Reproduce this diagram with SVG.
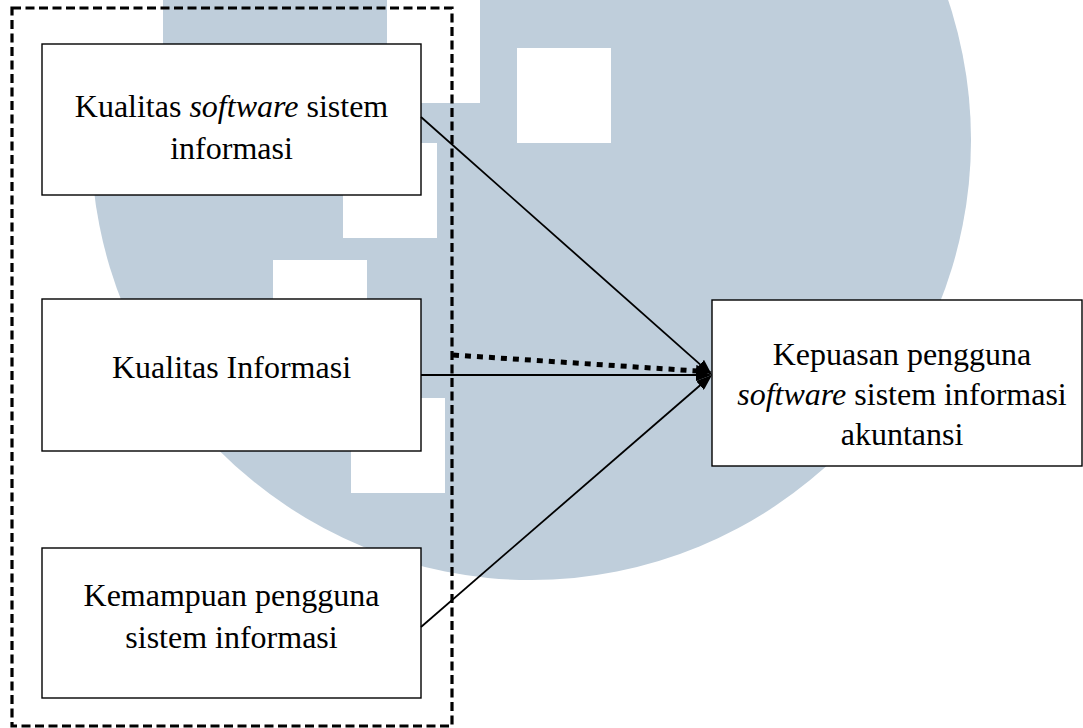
<svg xmlns="http://www.w3.org/2000/svg" width="1083" height="728" viewBox="0 0 1083 728">
<style>
.wm{fill:#bfcedb}
.hole{fill:#ffffff}
.box{fill:#ffffff;stroke:#000;stroke-width:1.4}
.t{font-family:"Liberation Serif","Times New Roman",serif;font-size:32px;fill:#000;text-anchor:middle}
.i{font-style:italic}
.ln{fill:none;stroke:#000;stroke-width:1.8}
.dot{fill:none;stroke:#000;stroke-width:5;stroke-dasharray:6 6}
.frame{fill:none;stroke:#000;stroke-width:3.2;stroke-dasharray:9 4.5}
</style>
<defs>
<marker id="arrow" markerUnits="userSpaceOnUse" markerWidth="16" markerHeight="12" viewBox="0 0 16 12" refX="3" refY="6" orient="auto">
<path d="M0,0 L16,6 L0,12 z" fill="#000"/>
</marker>
</defs>
<rect width="1083" height="728" fill="#ffffff"/>
<g id="watermark">
<circle class="wm" cx="531" cy="140" r="440"/>
<rect class="hole" x="0" y="0" width="163" height="60"/>
<rect class="hole" x="387" y="0" width="93" height="103"/>
<rect class="hole" x="517" y="48" width="94" height="95"/>
<rect class="hole" x="343" y="143" width="94" height="95"/>
<rect class="hole" x="273" y="260" width="94" height="95"/>
<rect class="hole" x="351" y="398" width="94" height="95"/>
</g>
<g id="frame">
<rect class="frame" x="12" y="8" width="440" height="718"/>
</g>
<g id="node-software">
<rect class="box" x="42" y="44" width="379" height="151"/>
<text class="t" x="231.5" y="117">Kualitas <tspan class="i">software</tspan> sistem</text>
<text class="t" x="231.5" y="159">informasi</text>
</g>
<g id="node-informasi">
<rect class="box" x="42" y="299" width="379" height="152"/>
<text class="t" x="231.5" y="378">Kualitas Informasi</text>
</g>
<g id="node-kemampuan">
<rect class="box" x="42" y="548" width="379" height="150"/>
<text class="t" x="231.5" y="606">Kemampuan pengguna</text>
<text class="t" x="231.5" y="648">sistem informasi</text>
</g>
<g id="node-kepuasan">
<rect class="box" x="712" y="300" width="370" height="166"/>
<text class="t" x="902" y="365">Kepuasan pengguna</text>
<text class="t" x="902" y="405"><tspan class="i">software</tspan> sistem informasi</text>
<text class="t" x="902" y="445">akuntansi</text>
</g>
<g id="connectors">
<path class="ln" d="M421,117 L702.3,366.3" marker-end="url(#arrow)"/>
<path class="ln" d="M421,375 L699,375" marker-end="url(#arrow)"/>
<path class="ln" d="M421,627 L702.2,383.5" marker-end="url(#arrow)"/>
<path class="dot" d="M453,355 L699,371.1" marker-end="url(#arrow)"/>
</g>
</svg>
